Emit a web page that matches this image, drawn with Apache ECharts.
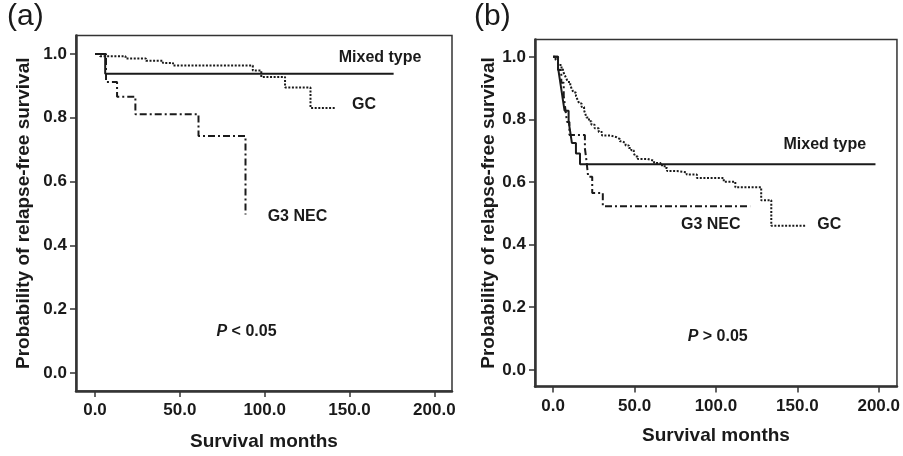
<!DOCTYPE html>
<html>
<head>
<meta charset="utf-8">
<script src="https://cdn.jsdelivr.net/npm/echarts@6/dist/echarts.min.js"></script>
<style>
html,body{margin:0;padding:0;background:#fff;}
#chart{width:903px;height:456px;}
</style>
</head>
<body>
<div id="chart"></div>
<script>
// ---------- data ----------
const xTicks = [0, 50, 100, 150, 200];
const yTicks = [0, 0.2, 0.4, 0.6, 0.8, 1.0];
const panelTitles = ['(a)', '(b)'];
const xTitle = 'Survival months';
const yTitle = 'Probability of relapse-free survival';

// Panel (a): Kaplan-Meier step times and survival values
const mixedA_t = [0, 6];
const mixedA_s = [1.0, 0.938];
const mixedA_end = 176;
const gcA_t = [0, 3, 18, 30, 40, 46, 93, 98, 112, 127];
const gcA_s = [1.0, 0.993, 0.986, 0.979, 0.972, 0.964, 0.948, 0.928, 0.895, 0.831];
const gcA_end = 141.5;
const necA_t = [0, 6.5, 13, 23.8, 61, 88.7];
const necA_s = [1.0, 0.912, 0.866, 0.811, 0.743, 0.497];
const necA_end = 88.7;

// Panel (b)
const mixedB_t = [0, 3, 4, 5, 6, 7, 9.5, 10.5, 11.5, 14, 16.5];
const mixedB_s = [1.0, 0.966, 0.931, 0.897, 0.862, 0.828, 0.794, 0.76, 0.725, 0.691, 0.657];
const mixedB_end = 198;
const necB_t = [0, 3, 5, 6.5, 7.5, 8.5, 10, 19.5, 20.5, 21.5, 24, 30.5];
const necB_s = [1.0, 0.958, 0.917, 0.875, 0.833, 0.792, 0.75, 0.708, 0.667, 0.617, 0.565, 0.523];
const necB_end = 121;
const gcB_t = [0, 1.5, 3, 4.5, 6, 7, 8, 9, 10.5, 11.5, 12.5, 14, 15, 16, 17.5, 19, 19.8, 20.5, 22, 23.5, 25.5, 28, 30, 35, 39, 41, 42.5, 44.5, 46.5, 48, 49.5, 50.5, 52, 58, 62, 66, 68.5, 70, 76, 82, 88.3, 104.8, 111.9, 127.8, 134];
const gcB_s = [1.0, 0.99, 0.978, 0.966, 0.955, 0.943, 0.932, 0.92, 0.909, 0.897, 0.886, 0.874, 0.863, 0.851, 0.84, 0.829, 0.817, 0.806, 0.794, 0.783, 0.772, 0.76, 0.749, 0.743, 0.737, 0.73, 0.724, 0.717, 0.709, 0.702, 0.692, 0.682, 0.674, 0.668, 0.661, 0.654, 0.645, 0.635, 0.631, 0.624, 0.613, 0.601, 0.583, 0.542, 0.46];
const gcB_end = 155.5;

// Annotation anchors (data units)
const annotA = [
  {text: 'Mixed type', at: [168, 0.989]},
  {text: 'GC', at: [158.5, 0.841]},
  {text: 'G3 NEC', at: [119.3, 0.489]},
  {text: '{i|P} < 0.05', at: [89.3, 0.129]}
];
const annotB = [
  {text: 'Mixed type', at: [166.9, 0.721]},
  {text: 'G3 NEC', at: [96.8, 0.463]},
  {text: 'GC', at: [169.6, 0.463]},
  {text: '{i|P} > 0.05', at: [101.1, 0.106]}
];

// ---------- chart ----------
const FONT = 'Liberation Sans, Arial, sans-serif';
const INK = '#1a1a1a';
const AXC = '#333';

function km(t, s, end) {
  const pts = t.map((x, i) => [x, s[i]]);
  if (end > t[t.length - 1]) pts.push([end, s[s.length - 1]]);
  return pts;
}

const styles = {
  mixed: {type: 'solid', width: 2},
  gc: {type: [2, 1.6], width: 2},
  nec: {type: [7, 3, 2, 3], width: 2}
};

function curve(name, data, style, idx) {
  return {
    type: 'line', name: name, step: 'end', data: data,
    xAxisIndex: idx, yAxisIndex: idx,
    showSymbol: false, symbol: 'none', silent: true,
    lineStyle: Object.assign({color: INK}, style)
  };
}

function labels(list, idx) {
  return {
    type: 'scatter', xAxisIndex: idx, yAxisIndex: idx, silent: true,
    symbolSize: 1, itemStyle: {color: '#fff', opacity: 1},
    data: list.map(a => ({value: a.at, name: a.text})),
    label: {
      show: true, position: 'inside', formatter: p => p.name, opacity: 1,
      textBorderWidth: 0, textShadowBlur: 0,
      fontFamily: FONT, fontWeight: 'bold', fontSize: 16, color: INK,
      rich: {i: {fontStyle: 'italic', fontWeight: 'bold', fontSize: 16, fontFamily: FONT, color: INK, textBorderWidth: 0}}
    }
  };
}

function xAxisCfg(idx, min, max, gap) {
  return {
    type: 'value', gridIndex: idx, min: min, max: max,
    axisLine: {show: true, onZero: false, lineStyle: {color: AXC, width: 2.5}},
    axisTick: {show: true, customValues: xTicks, length: 6, lineStyle: {color: AXC, width: 1.5}},
    axisLabel: {customValues: xTicks, formatter: v => v.toFixed(1), fontFamily: FONT,
      fontWeight: 'bold', fontSize: 17, color: INK, margin: 11},
    splitLine: {show: false},
    name: xTitle, nameLocation: 'middle', nameGap: gap,
    nameTextStyle: {fontFamily: FONT, fontWeight: 'bold', fontSize: 19, color: INK}
  };
}
function yAxisCfg(idx, min, max, gap) {
  return {
    type: 'value', gridIndex: idx, min: min, max: max,
    axisLine: {show: true, onZero: false, lineStyle: {color: AXC, width: 2.5}},
    axisTick: {show: true, customValues: yTicks, length: 6, lineStyle: {color: AXC, width: 1.5}},
    axisLabel: {customValues: yTicks, formatter: v => v.toFixed(1), fontFamily: FONT,
      fontWeight: 'bold', fontSize: 17, color: INK, margin: 9},
    splitLine: {show: false},
    name: yTitle, nameLocation: 'middle', nameGap: gap,
    nameTextStyle: {fontFamily: FONT, fontWeight: 'bold', fontSize: 19, color: INK}
  };
}

const chart = echarts.init(document.getElementById('chart'), null, {renderer: 'canvas'});
chart.setOption({
  animation: false,
  backgroundColor: '#fff',
  grid: [
    {left: 76, top: 35.5, right: 451, bottom: 59, show: true, borderColor: AXC, borderWidth: 1.5, backgroundColor: 'transparent'},
    {left: 535, top: 39.5, right: 3.5, bottom: 69.5, show: true, borderColor: AXC, borderWidth: 1.5, backgroundColor: 'transparent'}
  ],
  xAxis: [xAxisCfg(0, -11.2, 210.4, 41), xAxisCfg(1, -11.15, 211.2, 40)],
  yAxis: [yAxisCfg(0, -0.0564, 1.058, 43), yAxisCfg(1, -0.0533, 1.0555, 35)],
  graphic: [
    {type: 'text', left: 7, top: 2, style: {text: panelTitles[0], font: '30px ' + FONT, fill: INK}},
    {type: 'text', left: 474, top: 2, style: {text: panelTitles[1], font: '30px ' + FONT, fill: INK}}
  ],
  series: [
    curve('Mixed type', km(mixedA_t, mixedA_s, mixedA_end), styles.mixed, 0),
    curve('GC', km(gcA_t, gcA_s, gcA_end), styles.gc, 0),
    curve('G3 NEC', km(necA_t, necA_s, necA_end), styles.nec, 0),
    curve('Mixed type', km(mixedB_t, mixedB_s, mixedB_end), styles.mixed, 1),
    curve('GC', km(gcB_t, gcB_s, gcB_end), styles.gc, 1),
    curve('G3 NEC', km(necB_t, necB_s, necB_end), styles.nec, 1),
    labels(annotA, 0),
    labels(annotB, 1)
  ]
});
</script>
</body>
</html>
